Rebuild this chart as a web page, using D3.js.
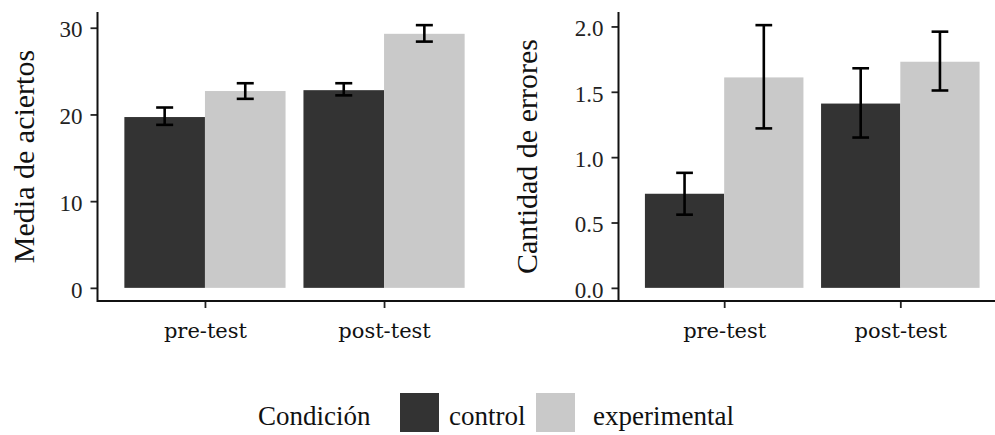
<!DOCTYPE html>
<html>
<head>
<meta charset="utf-8">
<script src="https://cdn.jsdelivr.net/npm/d3@7"></script>
<style>
    body { margin: 0; background: #fff; }
    svg { display: block; }
    .tick-y { font-family: 'Liberation Serif', serif; font-size: 23px; fill: #222; }
    .tick-x { font-family: 'DejaVu Serif', serif; font-size: 21px; fill: #111; }
    .axis-title { font-family: 'Liberation Serif', serif; font-size: 30px; fill: #111; }
    .legend-text { font-family: 'Liberation Serif', serif; font-size: 27px; fill: #111; }
</style>
</head>
<body>
<svg></svg>
<script>
// data
const tests = ['pre-test', 'post-test'];
const conditions = ['control', 'experimental'];
const colors = ['#333333', '#c9c9c9'];

// Media de aciertos: [pre-test, post-test]
const aciertosControl = [19.7, 22.8];
const aciertosControlLo = [18.8, 22.2];
const aciertosControlHi = [20.8, 23.6];
const aciertosExperimental = [22.7, 29.3];
const aciertosExperimentalLo = [21.8, 28.4];
const aciertosExperimentalHi = [23.6, 30.3];
const aciertosTicks = [0, 10, 20, 30];

// Cantidad de errores
const erroresControl = [0.72, 1.41];
const erroresControlLo = [0.56, 1.15];
const erroresControlHi = [0.88, 1.68];
const erroresExperimental = [1.61, 1.73];
const erroresExperimentalLo = [1.22, 1.51];
const erroresExperimentalHi = [2.01, 1.96];
const erroresTicks = [0, 0.5, 1.0, 1.5, 2.0];

const W = 995, H = 435;
const svg = d3.select('svg').attr('width', W).attr('height', H);

function toRows(vals, lo, hi, cond) {
    return tests.map((t, i) => ({ test: t, cond: cond, value: vals[i], lo: lo[i], hi: hi[i] }));
}

function drawPanel(opts) {
    const { left, right, top, bottom, rows, ticks, fmt, title } = opts;
    const g = svg.append('g');

    const x = d3.scalePoint()
        .domain(tests)
        .range([left, right])
        .padding(0.6);
    const step = x.step();

    const hiMax = d3.max(rows, d => d.hi);
    const pad = 0.05 * hiMax;
    const y = d3.scaleLinear()
        .domain([-pad, hiMax + pad])
        .range([bottom, top]);

    const barW = 0.45 * step;
    const barX = d => x(d.test) + (d.cond === 'control' ? -barW : 0);

    // bars
    g.selectAll('rect.bar')
        .data(rows)
        .enter().append('rect')
        .attr('class', 'bar')
        .attr('x', barX)
        .attr('width', barW)
        .attr('y', d => y(d.value))
        .attr('height', d => y(0) - y(d.value))
        .attr('fill', d => colors[conditions.indexOf(d.cond)]);

    // error bars
    const capW = 0.095 * step;
    const eb = g.selectAll('g.err')
        .data(rows)
        .enter().append('g')
        .attr('class', 'err')
        .attr('stroke', '#000')
        .attr('stroke-width', 2.6);
    eb.append('line')
        .attr('x1', d => barX(d) + barW / 2).attr('x2', d => barX(d) + barW / 2)
        .attr('y1', d => y(d.lo)).attr('y2', d => y(d.hi));
    eb.append('line')
        .attr('x1', d => barX(d) + barW / 2 - capW / 2).attr('x2', d => barX(d) + barW / 2 + capW / 2)
        .attr('y1', d => y(d.hi)).attr('y2', d => y(d.hi));
    eb.append('line')
        .attr('x1', d => barX(d) + barW / 2 - capW / 2).attr('x2', d => barX(d) + barW / 2 + capW / 2)
        .attr('y1', d => y(d.lo)).attr('y2', d => y(d.lo));

    // y axis
    const yAxis = g.append('g')
        .attr('transform', `translate(${left}, 0)`)
        .call(d3.axisLeft(y).tickValues(ticks).tickFormat(fmt).tickSize(7).tickPadding(8));
    yAxis.select('.domain').remove();
    yAxis.selectAll('.tick line').attr('stroke', '#222').attr('stroke-width', 1.8);
    yAxis.selectAll('.tick text').attr('class', 'tick-y').attr('fill', null).attr('dy', '0.4em');
    yAxis.attr('font-family', null).attr('font-size', null);

    // x axis
    const xAxis = g.append('g')
        .attr('transform', `translate(0, ${bottom})`)
        .call(d3.axisBottom(x).tickSize(7).tickPadding(15));
    xAxis.select('.domain').remove();
    xAxis.selectAll('.tick line').attr('stroke', '#222').attr('stroke-width', 1.8);
    xAxis.selectAll('.tick text').attr('class', 'tick-x').attr('fill', null);
    xAxis.attr('font-family', null).attr('font-size', null);

    // axis lines
    g.append('path')
        .attr('d', `M${left},${top}V${bottom}H${Math.max(right, W)}`)
        .attr('fill', 'none')
        .attr('stroke', '#111')
        .attr('stroke-width', 2);

    // title
    g.append('text')
        .attr('class', 'axis-title')
        .attr('text-anchor', 'middle')
        .attr('transform', `translate(${opts.titleX}, ${(top + bottom) / 2}) rotate(-90)`)
        .text(title);
}

const aciertosRows = [].concat(
    toRows(aciertosControl, aciertosControlLo, aciertosControlHi, 'control'),
    toRows(aciertosExperimental, aciertosExperimentalLo, aciertosExperimentalHi, 'experimental')
);
const erroresRows = [].concat(
    toRows(erroresControl, erroresControlLo, erroresControlHi, 'control'),
    toRows(erroresExperimental, erroresExperimentalLo, erroresExperimentalHi, 'experimental')
);

drawPanel({
    left: 97.5, right: 491.5, top: 12, bottom: 301,
    rows: aciertosRows, ticks: aciertosTicks, fmt: d3.format('d'),
    title: 'Media de aciertos', titleX: 34
});
drawPanel({
    left: 618.5, right: 1006, top: 12, bottom: 301,
    rows: erroresRows, ticks: erroresTicks, fmt: d3.format('.1f'),
    title: 'Cantidad de errores', titleX: 537
});

// legend
const legend = svg.append('g').attr('transform', 'translate(0, 393)');
legend.append('text')
    .attr('class', 'legend-text')
    .attr('x', 258).attr('y', 32)
    .text('Condición');
const keyX = [400, 536];
const labelX = [449, 593];
const keys = legend.selectAll('g.key')
    .data(conditions)
    .enter().append('g')
    .attr('class', 'key');
keys.append('rect')
    .attr('x', (d, i) => keyX[i])
    .attr('y', 0)
    .attr('width', 39).attr('height', 39)
    .attr('fill', (d, i) => colors[i]);
keys.append('text')
    .attr('class', 'legend-text')
    .attr('x', (d, i) => labelX[i])
    .attr('y', 32)
    .text(d => d);
</script>
</body>
</html>
